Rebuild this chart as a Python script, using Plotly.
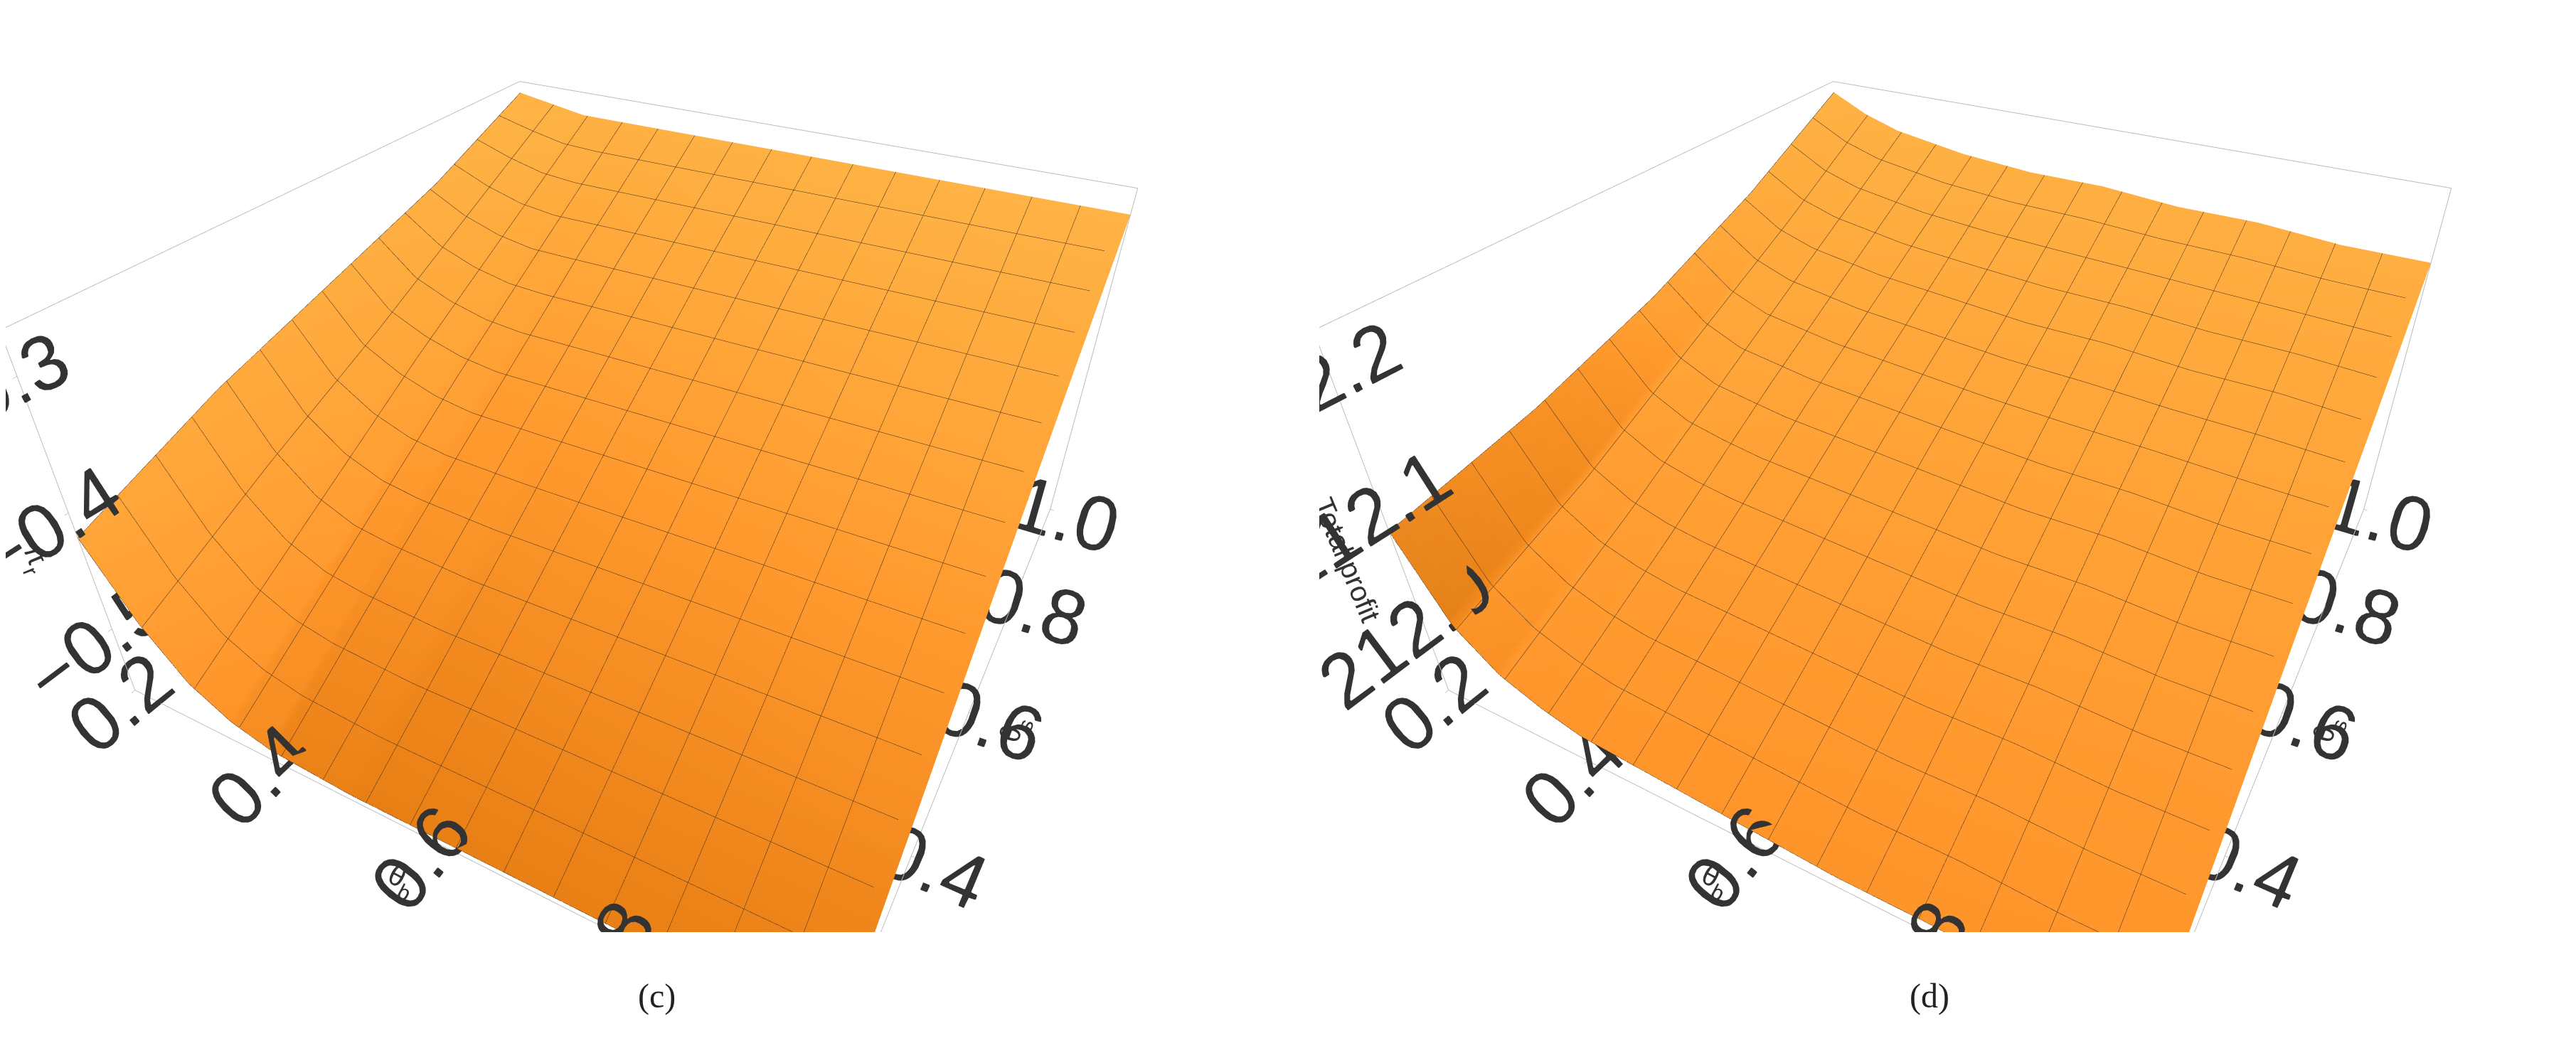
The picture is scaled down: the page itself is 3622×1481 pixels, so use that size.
import plotly.graph_objects as go

# grid
theta_b = [0.2, 0.25, 0.3, 0.35, 0.4, 0.5, 0.6, 0.7, 0.8, 0.9, 1.0]
theta_s = [0.2, 0.4, 0.6, 0.8, 1.0]

# rows = theta_s, cols = theta_b
pi_r = [
    [-0.42, -0.48, -0.52, -0.54, -0.55, -0.555, -0.555, -0.555, -0.555, -0.555, -0.555],
    [-0.38, -0.43, -0.46, -0.475, -0.48, -0.485, -0.485, -0.485, -0.485, -0.485, -0.485],
    [-0.35, -0.385, -0.40, -0.41, -0.415, -0.415, -0.415, -0.415, -0.415, -0.415, -0.415],
    [-0.32, -0.335, -0.345, -0.35, -0.35, -0.35, -0.35, -0.35, -0.35, -0.35, -0.35],
    [-0.28, -0.285, -0.29, -0.29, -0.29, -0.29, -0.29, -0.29, -0.29, -0.29, -0.29],
]
total_profit = [
    [212.08, 212.01, 211.98, 211.965, 211.955, 211.95, 211.945, 211.94, 211.94, 211.935, 211.935],
    [212.10, 212.05, 212.03, 212.02, 212.015, 212.01, 212.005, 212.0, 212.0, 211.995, 211.995],
    [212.13, 212.10, 212.085, 212.08, 212.075, 212.07, 212.065, 212.06, 212.06, 212.055, 212.055],
    [212.17, 212.15, 212.14, 212.135, 212.13, 212.125, 212.12, 212.12, 212.115, 212.115, 212.11],
    [212.22, 212.205, 212.195, 212.19, 212.185, 212.18, 212.18, 212.175, 212.175, 212.17, 212.17],
]

ticks = [0.2, 0.4, 0.6, 0.8, 1.0]
tick_text = ["0.2", "0.4", "0.6", "0.8", "1.0"]
colorscale = [[0, "#e57c12"], [1, "#ff9c2e"]]
mesh = dict(show=True, start=0.2, end=1.0, size=0.8 / 15, color="#3a2a1a", width=2)


def surface(z, scene):
    return go.Surface(
        x=theta_b, y=theta_s, z=z, scene=scene, colorscale=colorscale, showscale=False,
        surfacecolor=z,
        lighting=dict(ambient=0.75, diffuse=0.5, specular=0.15, roughness=0.7),
        lightposition=dict(x=100, y=-200, z=300),
        contours=dict(x=mesh, y=mesh), hoverinfo="skip",
    )


def axis(title, tickvals=None, ticktext=None, rng=None):
    ax = dict(
        title=dict(text=title, font=dict(size=40, color="#333")),
        showbackground=False, showgrid=False, zeroline=False,
        showline=True, linecolor="#bbbbbb", linewidth=2, mirror=True,
        ticks="outside", tickcolor="#999", tickfont=dict(size=36, color="#333"),
        showspikes=False,
    )
    if tickvals is not None:
        ax.update(tickvals=tickvals, ticktext=ticktext)
    if rng is not None:
        ax["range"] = rng
    return ax


scene_common = dict(
    aspectmode="manual", aspectratio=dict(x=1, y=1, z=0.55),
    camera=dict(eye=dict(x=0.6, y=-1.1, z=0.85), center=dict(x=0, y=0, z=-0.05)),
)

fig = go.Figure()
fig.add_trace(surface(pi_r, "scene"))
fig.add_trace(surface(total_profit, "scene2"))

fig.update_layout(
    width=3622, height=1481, paper_bgcolor="white",
    font=dict(family="Liberation Sans"),
    margin=dict(l=0, r=0, t=0, b=0),
    scene=dict(
        domain=dict(x=[0.0, 0.49], y=[0.12, 1.0]),
        xaxis=axis("θ<sub>b</sub>", ticks, tick_text, [0.2, 1.0]),
        yaxis=axis("θ<sub>s</sub>", ticks, tick_text, [0.2, 1.0]),
        zaxis=axis("π<sub>r</sub>", [-0.5, -0.4, -0.3], ["−0.5", "−0.4", "−0.3"], [-0.56, -0.27]),
        **scene_common,
    ),
    scene2=dict(
        domain=dict(x=[0.51, 1.0], y=[0.12, 1.0]),
        xaxis=axis("θ<sub>b</sub>", ticks, tick_text, [0.2, 1.0]),
        yaxis=axis("θ<sub>s</sub>", ticks, tick_text, [0.2, 1.0]),
        zaxis=axis("Total profit", [212.0, 212.1, 212.2], ["212.0", "212.1", "212.2"], [211.93, 212.23]),
        **scene_common,
    ),
    annotations=[
        dict(text="(c)", x=0.245, y=0.04, xref="paper", yref="paper", showarrow=False,
             font=dict(size=48, color="#222", family="Liberation Serif")),
        dict(text="(d)", x=0.755, y=0.04, xref="paper", yref="paper", showarrow=False,
             font=dict(size=48, color="#222", family="Liberation Serif")),
    ],
)

fig.write_html("out.html")
